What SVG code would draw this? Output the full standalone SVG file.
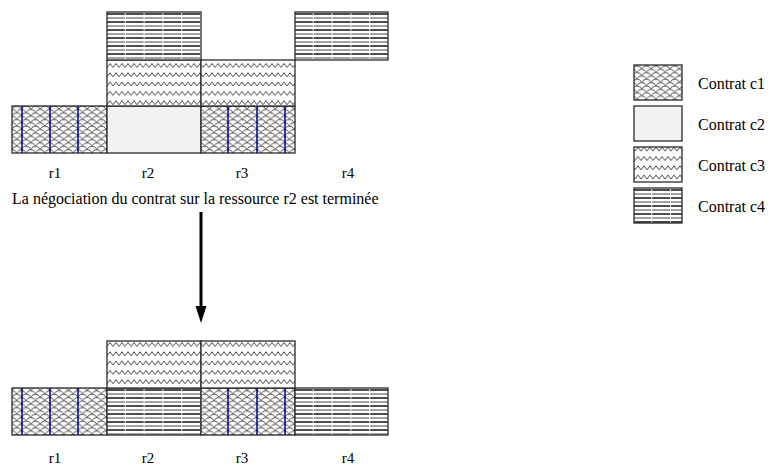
<svg xmlns="http://www.w3.org/2000/svg" width="780" height="466" viewBox="0 0 780 466">
<style>
.blk{stroke:#2a2a2a;stroke-width:1.3}
.c1{fill:url(#pc1)}
.c2{fill:#f2f2f2}
.c3{fill:url(#pc3)}
.c4{fill:url(#pc4)}
.blue{stroke:#000090;stroke-width:1.5}
text{font-family:"Liberation Serif","Times New Roman",serif;fill:#000}
.lbl{font-size:15px;text-anchor:middle}
.cap{font-size:16px}
.leg{font-size:16px}
</style>
<defs>
<pattern id="pc1" patternUnits="userSpaceOnUse" width="9.4" height="6.7" patternTransform="translate(12,106)">
<rect width="9.4" height="6.7" fill="#fff"/>
<path d="M0,3.35 A5,5 0 0 1 9.4,3.35 M-4.7,6.7 A5,5 0 0 1 4.7,6.7 M4.7,6.7 A5,5 0 0 1 14.1,6.7" fill="none" stroke="#222" stroke-width="0.75"/>
</pattern>
<pattern id="pc3" patternUnits="userSpaceOnUse" width="6" height="9.3" patternTransform="translate(107,60)">
<rect width="6" height="9.3" fill="#fff"/>
<path d="M0,7.5 L3,3.5 L6,7.5" fill="none" stroke="#3a3a3a" stroke-width="0.9"/>
</pattern>
<pattern id="pc4" patternUnits="userSpaceOnUse" width="18.8" height="8" patternTransform="translate(107,12)">
<rect width="18.8" height="8" fill="#fff"/>
<line x1="0" y1="2" x2="18.8" y2="2" stroke="#000" stroke-width="1.4"/>
<line x1="0" y1="6" x2="18.8" y2="6" stroke="#7a7a7a" stroke-width="1.4"/>
<rect x="17.9" y="0" width="0.9" height="8" fill="#fff"/>
</pattern>
</defs>

<g id="top-state">
<g id="top-r1-c1"><rect class="blk c1" x="12" y="106" width="95" height="47"/>
<path class="blue" d="M22,106V153M50,106V153M78,106V153"/></g>
<g id="top-r2-c2"><rect class="blk c2" x="107" y="106" width="94" height="47"/></g>
<g id="top-r2-c3"><rect class="blk c3" x="107" y="60" width="94" height="46"/></g>
<g id="top-r2-c4"><rect class="blk c4" x="107" y="12" width="94" height="48"/></g>
<g id="top-r3-c1"><rect class="blk c1" x="201" y="106" width="94" height="47"/>
<path class="blue" d="M228,106V153M257,106V153M285,106V153"/></g>
<g id="top-r3-c3"><rect class="blk c3" x="201" y="60" width="94" height="46"/></g>
<g id="top-r4-c4"><rect class="blk c4" x="295" y="12" width="93" height="48"/></g>
<text class="lbl" x="55" y="178">r1</text>
<text class="lbl" x="148" y="178">r2</text>
<text class="lbl" x="242" y="178">r3</text>
<text class="lbl" x="348" y="178">r4</text>
<text class="cap" x="12" y="204">La négociation du contrat sur la ressource r2 est terminée</text>
</g>

<g id="connectors">
<line x1="201" y1="212" x2="201" y2="307" stroke="#000" stroke-width="3"/>
<polygon points="195.5,306 206.5,306 201,323" fill="#000"/>
</g>

<g id="bottom-state">
<g id="bot-r1-c1"><rect class="blk c1" x="12" y="388" width="95" height="47"/>
<path class="blue" d="M22,388V435M50,388V435M78,388V435"/></g>
<g id="bot-r2-c4"><rect class="blk c4" x="107" y="388" width="94" height="47"/></g>
<g id="bot-r2-c3"><rect class="blk c3" x="107" y="341" width="94" height="47"/></g>
<g id="bot-r3-c1"><rect class="blk c1" x="201" y="388" width="94" height="47"/>
<path class="blue" d="M228,388V435M257,388V435M285,388V435"/></g>
<g id="bot-r3-c3"><rect class="blk c3" x="201" y="341" width="94" height="47"/></g>
<g id="bot-r4-c4"><rect class="blk c4" x="295" y="388" width="93" height="47"/></g>
<text class="lbl" x="55" y="463">r1</text>
<text class="lbl" x="148" y="463">r2</text>
<text class="lbl" x="242" y="463">r3</text>
<text class="lbl" x="348" y="463">r4</text>
</g>

<g id="legend">
<g id="leg-c1"><rect class="blk c1" x="634" y="65" width="48" height="35"/><text class="leg" x="698" y="89">Contrat c1</text></g>
<g id="leg-c2"><rect class="blk c2" x="634" y="106" width="48" height="35"/><text class="leg" x="698" y="130">Contrat c2</text></g>
<g id="leg-c3"><rect class="blk c3" x="634" y="147" width="48" height="35"/><text class="leg" x="698" y="171">Contrat c3</text></g>
<g id="leg-c4"><rect class="blk c4" x="634" y="188" width="48" height="35"/><text class="leg" x="698" y="212">Contrat c4</text></g>
</g>
</svg>
